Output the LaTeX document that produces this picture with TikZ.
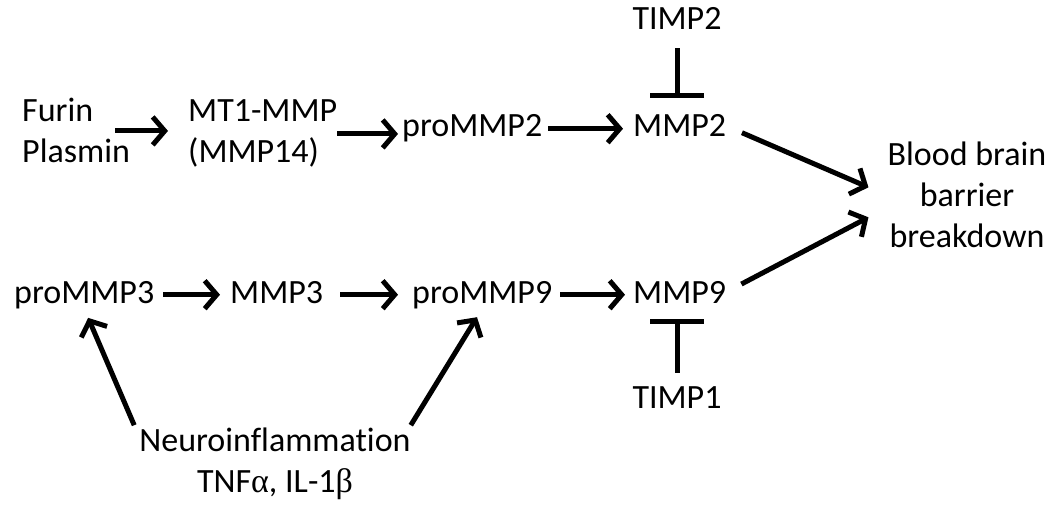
\documentclass[tikz,border=0pt]{standalone}
\usepackage{fontspec}
\setmainfont{Carlito}[Ligatures=NoCommon]
\newfontfamily\grego{Liberation Serif}
\usetikzlibrary{positioning,arrows.meta}

\begin{document}
\begin{tikzpicture}[
  x=1pt, y=1pt,
  termo/.style={inner sep=0pt, font=\fontsize{34}{41}\selectfont},
  seta/.style={-{Straight Barb[length=12pt, width=28pt]}, line width=5pt},
  inibe/.style={-{Bar[width=54pt]}, line width=5pt}
]
\useasboundingbox (0,0) rectangle (1057,504);
\node[termo, align=left, anchor=base west] (furin) at (22,341) {Furin \\ Plasmin};
\node[termo, align=left, anchor=base west] (mt1) at (188,341) {MT1-MMP \\ (MMP14)};
\node[termo, anchor=base west] (pro2) at (402,367) {proMMP2};
\node[termo, anchor=base west] (mmp2) at (633,367) {MMP2};
\node[termo, anchor=base] (timp2) at (677,474) {TIMP2};
\node[termo, align=center, anchor=base] (bbb) at (967,256) {Blood brain \\ barrier \\ breakdown};
\node[termo, anchor=base west] (pro3) at (14,201) {proMMP3};
\node[termo, anchor=base west] (mmp3) at (230,201) {MMP3};
\node[termo, anchor=base west] (pro9) at (412,201) {proMMP9};
\node[termo, anchor=base west] (mmp9) at (633,201) {MMP9};
\node[termo, anchor=base] (timp1) at (677,96) {TIMP1};
\node[termo, align=center, anchor=base] (neuro) at (275,12) {Neuroinflammation \\ TNF{\grego α}, IL-1{\grego β}};
% linha de cima
\draw[seta] ([xshift=-15pt]furin.east) -- ([xshift=-20pt]furin.east -| mt1.west);
\draw[seta, shorten >=4pt] (mt1.east) -- (mt1.east -| pro2.west);
\draw[seta, shorten <=6pt, shorten >=10pt] (pro2.east) -- (pro2.east -| mmp2.west);
\draw[inibe, shorten <=18pt, shorten >=17pt] (timp2.south) -- (timp2.south |- mmp2.north);
% linha de baixo
\draw[seta, shorten <=9pt, shorten >=10pt] (pro3.east) -- (pro3.east -| mmp3.west);
\draw[seta, shorten <=17pt, shorten >=14pt] (mmp3.east |- pro9.west) -- (pro9.west);
\draw[seta, shorten <=8pt, shorten >=8pt] (pro9.east) -- (pro9.east -| mmp9.west);
\draw[inibe, shorten <=13pt, shorten >=16pt] (timp1.north) -- (timp1.north |- mmp9.south);
% barreira
\draw[seta, shorten <=17pt] (mmp2.east) -- ([xshift=-19pt, yshift=8pt]bbb.west);
\draw[seta, shorten <=17pt] (mmp9.east) -- ([xshift=-19pt, yshift=-22pt]bbb.west);
% neuroinflamacao
\draw[seta, shorten >=10pt] ([xshift=-5pt, yshift=2pt]neuro.north west) -- (pro3.south);
\draw[seta, shorten >=10pt] ([yshift=2pt]neuro.north east) -- (pro9.south);
\end{tikzpicture}
\end{document}
